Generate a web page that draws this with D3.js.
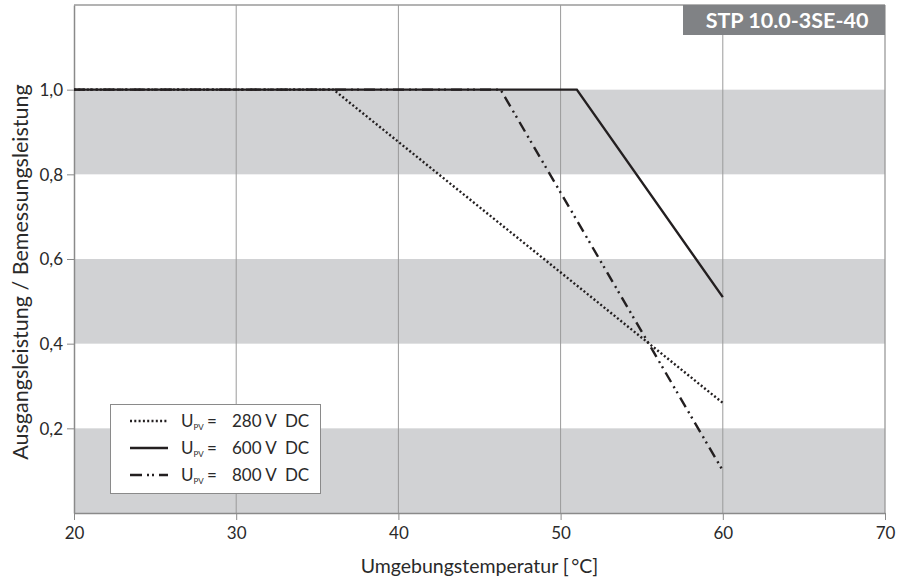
<!DOCTYPE html>
<html>
<head>
<meta charset="utf-8">
<script src="https://cdn.jsdelivr.net/npm/d3@7"></script>
<style>
  html, body { margin: 0; padding: 0; background: #fff; }
  svg { display: block; font-family: "Lato", "Noto Sans", sans-serif; }
</style>
</head>
<body>
<svg id="chart" width="907" height="584"></svg>
<script>
// ---- data ----
const xTicks = [20, 30, 40, 50, 60, 70];
const yTicks = [0.2, 0.4, 0.6, 0.8, 1.0];
const yTickLabels = ["0,2", "0,4", "0,6", "0,8", "1,0"];
const bands = [[0.0, 0.2], [0.4, 0.6], [0.8, 1.0]];
const seriesNames = ["280 V  DC", "600 V  DC", "800 V  DC"];
const temp280 = [20, 36, 60];
const val280  = [1.0, 1.0, 0.26];
const temp600 = [20, 51, 60];
const val600  = [1.0, 1.0, 0.51];
const temp800 = [20, 46.3, 60];
const val800  = [1.0, 1.0, 0.10];
const chartTitle = "STP 10.0-3SE-40";
const xTitle = "Umgebungstemperatur [\u2009°C]";
const yTitle = "Ausgangsleistung / Bemessungsleistung";

const series = [
  { name: seriesNames[0], t: temp280, v: val280, dash: "2,2.3", width: 2.4 },
  { name: seriesNames[1], t: temp600, v: val600, dash: null, width: 2.4 },
  { name: seriesNames[2], t: temp800, v: val800, dash: "11,5,2,4,2,5", width: 2.4 }
];

// ---- layout ----
const svg = d3.select("#chart");
const mL = 74, mR = 885, mT = 5, mB = 513;
const x = d3.scaleLinear().domain([20, 70]).range([mL, mR]);
const y = d3.scaleLinear().domain([0, 1.2]).range([mB, mT]);

// bands
svg.append("g").selectAll("rect").data(bands).join("rect")
  .attr("x", mL).attr("width", mR - mL)
  .attr("y", d => y(d[1])).attr("height", d => y(d[0]) - y(d[1]))
  .attr("fill", "#d1d2d4");

// vertical grid
svg.append("g").selectAll("line").data(xTicks.slice(1, -1)).join("line")
  .attr("x1", d => x(d)).attr("x2", d => x(d))
  .attr("y1", mT).attr("y2", mB)
  .attr("stroke", "#9a9a9a").attr("stroke-width", 1);

// frame top and right
svg.append("line").attr("x1", mL).attr("x2", mR).attr("y1", mT).attr("y2", mT)
  .attr("stroke", "#9a9a9a").attr("stroke-width", 1.3);
svg.append("line").attr("x1", mR).attr("x2", mR).attr("y1", mT).attr("y2", mB)
  .attr("stroke", "#9a9a9a").attr("stroke-width", 1.3);

// axes
const xAxis = svg.append("g").attr("transform", `translate(0,${mB})`)
  .call(d3.axisBottom(x).tickValues(xTicks).tickSize(7).tickSizeOuter(0).tickFormat(d3.format("d")));
const yAxis = svg.append("g").attr("transform", `translate(${mL},0)`)
  .call(d3.axisLeft(y).tickValues(yTicks).tickSize(7).tickSizeOuter(0).tickFormat((d, i) => yTickLabels[i]));
[xAxis, yAxis].forEach(g => {
  g.select(".domain").attr("stroke", "#8a8a8a").attr("stroke-width", 1.5);
  g.selectAll(".tick line").attr("stroke", "#8a8a8a").attr("stroke-width", 1);
  g.selectAll("text").attr("fill", "#2a2a2a").style("font-size", "17px")
    .style("font-family", "Lato, 'Noto Sans', sans-serif");
});
xAxis.selectAll("text").attr("dy", "0.95em");
yAxis.selectAll("text").attr("x", -11).attr("dy", "0.35em");

// lines
const line = d3.line().x(d => x(d[0])).y(d => y(d[1]));
series.forEach(s => {
  const pts = s.t.map((t, i) => [t, s.v[i]]);
  svg.append("path").datum(pts)
    .attr("d", line)
    .attr("fill", "none")
    .attr("stroke", "#231f20")
    .attr("stroke-width", s.width)
    .attr("stroke-dasharray", s.dash);
});

// title box
const tb = svg.append("g");
tb.append("rect").attr("x", 683).attr("y", mT).attr("width", mR - 683).attr("height", 30)
  .attr("fill", "#808285");
tb.append("text").attr("x", (683 + mR) / 2 + 3).attr("y", mT + 23)
  .attr("text-anchor", "middle").attr("fill", "#fff")
  .style("font-size", "21.5px").style("font-weight", "bold")
  .text(chartTitle);

// legend
const lg = svg.append("g");
lg.append("rect").attr("x", 110.5).attr("y", 404.5).attr("width", 210).attr("height", 89)
  .attr("fill", "#fff").attr("stroke", "#8a8a8a").attr("stroke-width", 1);
series.forEach((s, i) => {
  const ry = 421 + i * 27;
  lg.append("line").attr("x1", 130).attr("x2", 168).attr("y1", ry).attr("y2", ry)
    .attr("stroke", "#231f20").attr("stroke-width", s.width)
    .attr("stroke-dasharray", s.dash ? (i === 2 ? "12,5,2,3,2,5" : s.dash) : null);
  const t = lg.append("text").attr("y", ry + 6).attr("fill", "#2a2a2a").style("font-size", "17px");
  t.append("tspan").attr("x", 181).text("U");
  t.append("tspan").attr("dy", 3).style("font-size", "8px").text("PV");
  t.append("tspan").attr("x", 207).attr("dy", -3).text("=");
  t.append("tspan").attr("x", 232).text(s.name.replace("  ", "\u00a0\u00a0"));
});

// axis titles
svg.append("text").attr("x", (mL + mR) / 2).attr("y", 573)
  .attr("text-anchor", "middle").attr("fill", "#2a2a2a").style("font-size", "19.5px")
  .text(xTitle);
svg.append("text").attr("transform", `translate(28,${272}) rotate(-90)`)
  .attr("text-anchor", "middle").attr("fill", "#2a2a2a").style("font-size", "21.5px")
  .text(yTitle);
</script>
</body>
</html>
